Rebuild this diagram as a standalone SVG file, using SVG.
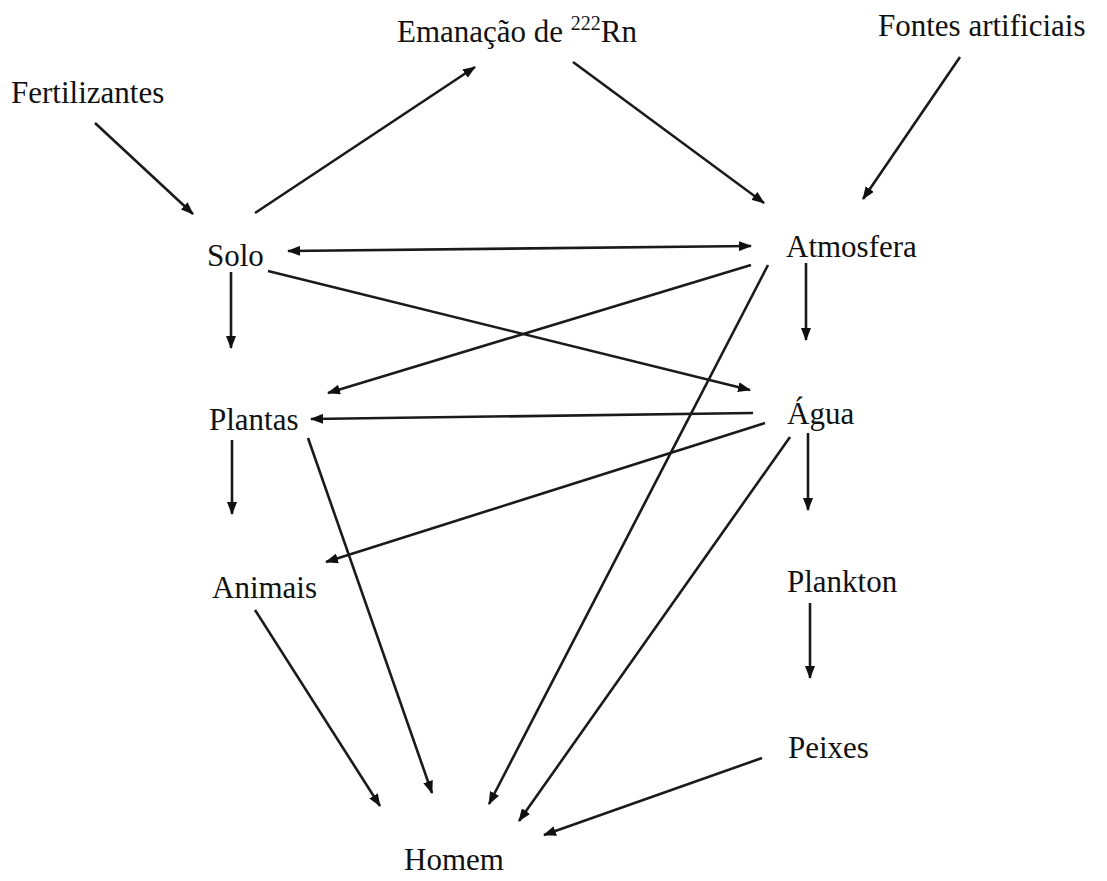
<svg xmlns="http://www.w3.org/2000/svg" width="1107" height="881" viewBox="0 0 1107 881">
<style>
text{font-family:'Liberation Serif',Tinos,'Times New Roman',Times,'DejaVu Serif',serif;font-size:31px;fill:#111}
.c line{stroke:#1a1a1a;stroke-width:2.6;marker-end:url(#ah)}
</style>
<defs>
<marker id="ah" markerUnits="userSpaceOnUse" markerWidth="13" markerHeight="10" refX="12" refY="5" orient="auto"><path d="M0,0 L13,5 L0,10 z" fill="#111"/></marker>
<marker id="as" markerUnits="userSpaceOnUse" markerWidth="13" markerHeight="10" refX="1" refY="5" orient="auto"><path d="M13,0 L0,5 L13,10 z" fill="#111"/></marker>
</defs>
<rect width="1107" height="881" fill="#fff"/>
<g id="fertilizantes"><text x="11" y="103" font-family="Liberation Serif, serif">Fertilizantes</text></g>
<g id="emanacao"><text x="397" y="42" font-family="Liberation Serif, serif">Emanação de <tspan font-size="20" dy="-12">222</tspan><tspan dy="12">Rn</tspan></text></g>
<g id="fontes"><text x="878" y="36" font-family="Liberation Serif, serif">Fontes artificiais</text></g>
<g id="solo"><text x="207" y="266" font-family="Liberation Serif, serif">Solo</text></g>
<g id="atmosfera"><text x="786" y="257" font-family="Liberation Serif, serif">Atmosfera</text></g>
<g id="plantas"><text x="209" y="430" font-family="Liberation Serif, serif">Plantas</text></g>
<g id="agua"><text x="787" y="424" font-family="Liberation Serif, serif">Água</text></g>
<g id="animais"><text x="212" y="598" font-family="Liberation Serif, serif">Animais</text></g>
<g id="plankton"><text x="787" y="592" font-family="Liberation Serif, serif">Plankton</text></g>
<g id="peixes"><text x="788" y="758" font-family="Liberation Serif, serif">Peixes</text></g>
<g id="homem"><text x="404" y="870" font-family="Liberation Serif, serif">Homem</text></g>
<g id="connectors" class="c">
<line x1="95" y1="123" x2="193" y2="214"/>
<line x1="255" y1="213" x2="475" y2="67"/>
<line x1="573" y1="62" x2="764" y2="203"/>
<line x1="960" y1="57" x2="863" y2="199"/>
<line x1="288" y1="251" x2="751" y2="246" marker-start="url(#as)"/>
<line x1="231" y1="272" x2="231" y2="348"/>
<line x1="268" y1="271" x2="750" y2="390"/>
<line x1="751" y1="265" x2="328" y2="393"/>
<line x1="768" y1="265" x2="489" y2="804"/>
<line x1="806" y1="263" x2="806" y2="340"/>
<line x1="753" y1="413" x2="311" y2="419"/>
<line x1="765" y1="423" x2="326" y2="562"/>
<line x1="790" y1="437" x2="519" y2="821"/>
<line x1="808" y1="433" x2="808" y2="510"/>
<line x1="232" y1="440" x2="232" y2="514"/>
<line x1="308" y1="438" x2="432" y2="793"/>
<line x1="255" y1="610" x2="380" y2="806"/>
<line x1="810" y1="603" x2="810" y2="678"/>
<line x1="762" y1="758" x2="544" y2="835"/>
</g>
</svg>
